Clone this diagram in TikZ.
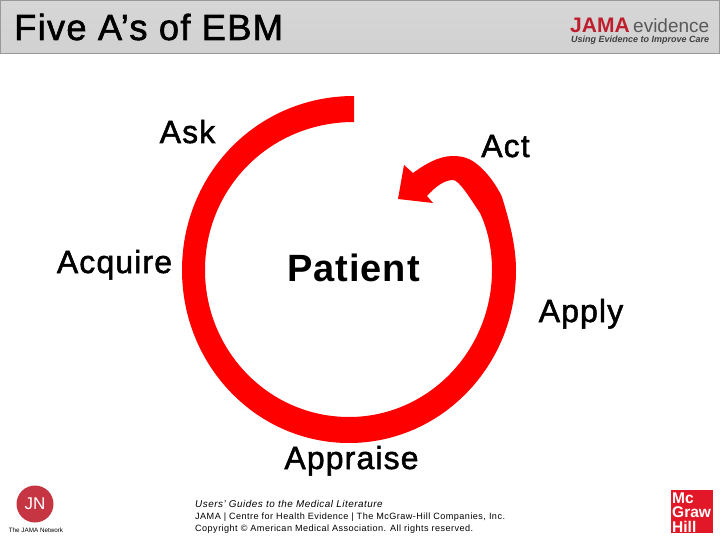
\documentclass[tikz,border=0pt]{standalone}
\usepackage{fontspec}
\setmainfont{Liberation Sans}
\newfontfamily\labelfont[FakeBold=1.6,LetterSpace=3.5]{Liberation Sans}
\newfontfamily\heavyfont[LetterSpace=2.6]{Liberation Sans}
\newfontfamily\notefont[LetterSpace=5]{Liberation Sans}
\definecolor{ringred}{RGB}{254,0,0}
\definecolor{jamared}{RGB}{190,30,45}
\definecolor{mhred}{RGB}{226,24,40}
\begin{document}
\begin{tikzpicture}
    [x=1pt,y=-1pt,
        word/.style={font=\labelfont\fontsize{32}{32}\selectfont,inner sep=0pt,anchor=base},
        small/.style={font=\notefont\fontsize{9.1}{9}\selectfont,inner sep=0pt,anchor=base west},
    ]
\useasboundingbox (0,0) rectangle (720,540);

% header bar
\path[top color=black!16,middle color=black!7,bottom color=black!18,draw=black!40,line width=1pt] (0.5,0.5) rectangle (719.5,54);
\node[inner sep=0pt,anchor=base west,font=\labelfont\fontsize{36.3}{37}\selectfont] (title) at (14,40) {Five A’s of EBM};
\node[inner sep=0pt,anchor=base west,text=jamared,font=\bfseries\fontsize{21}{21}\selectfont] (jama) at (570,33) {JAMA};
\node[inner sep=0pt,anchor=base west,text=black!65,font=\fontsize{19}{19}\selectfont] (evid) at (633,33) {evidence};
\node[inner sep=0pt,anchor=base west,font=\bfseries\itshape\fontsize{9}{9}\selectfont,text=black!75] (tag) at (571,43) {Using Evidence to Improve Care};

% ring and arrow
\fill[ringred] (354,96) .. controls (257,96) and (182,174) .. (182,270)
    .. controls (182,366) and (257,443) .. (349,443)
    .. controls (441,443) and (516,366) .. (516,270)
    .. controls (516,245) and (509,220) .. (502,197)
    .. controls (497,186) and (487,172) .. (478,165)
    .. controls (470,158) and (462,156) .. (453,156)
    .. controls (438,156) and (424,165) .. (413,173)
    -- (404,165) -- (398,199) -- (433,203) -- (427,196)
    .. controls (435,187) and (444,180) .. (453,180)
    .. controls (459,180) and (470,198) .. (480,213)
    .. controls (488,230) and (492,250) .. (492,270)
    .. controls (492,351) and (428,417) .. (349,417)
    .. controls (269,417) and (205,351) .. (205,270)
    .. controls (205,188) and (270,122) .. (354,122) -- cycle;

% labels
\node[word] (ask) at (187.5,143) {Ask};
\node[word] (act) at (505.5,157) {Act};
\node[word] (acquire) at (114.5,273) {Acquire};
\node[word,font=\heavyfont\bfseries\fontsize{38}{38}\selectfont] (patient) at (353.5,281) {Patient};
\node[word] (apply) at (581,322) {Apply};
\node[word] (appraise) at (351.5,469) {Appraise};

% footer
\node[small,font=\notefont\itshape\fontsize{9.9}{10}\selectfont] (guides) at (195,507) {Users’ Guides to the Medical Literature};
\node[small] (centre) at (195,519) {JAMA | Centre for Health Evidence | The McGraw-Hill Companies, Inc.};
\node[small] (copy) at (195,531) {Copyright © American Medical Association. All rights reserved.};

% logos
\fill[mhred] (671,490) rectangle (713,533);
\foreach \word/\y in {Mc/503,Graw/517.5,Hill/532}
    \node[inner sep=0pt,text=white,anchor=base west,font=\bfseries\fontsize{15.5}{16}\selectfont] (mh\word) at (672,\y) {\word};
\node[circle,fill=jamared!90!white,minimum size=37pt,inner sep=0pt,text=white,font=\fontsize{17}{17}\selectfont] (jn) at (35,504) {JN};
\node[inner sep=0pt,font=\fontsize{6.3}{6}\selectfont,anchor=base] (network) at (36,532) {The JAMA Network};
\end{tikzpicture}
\end{document}
